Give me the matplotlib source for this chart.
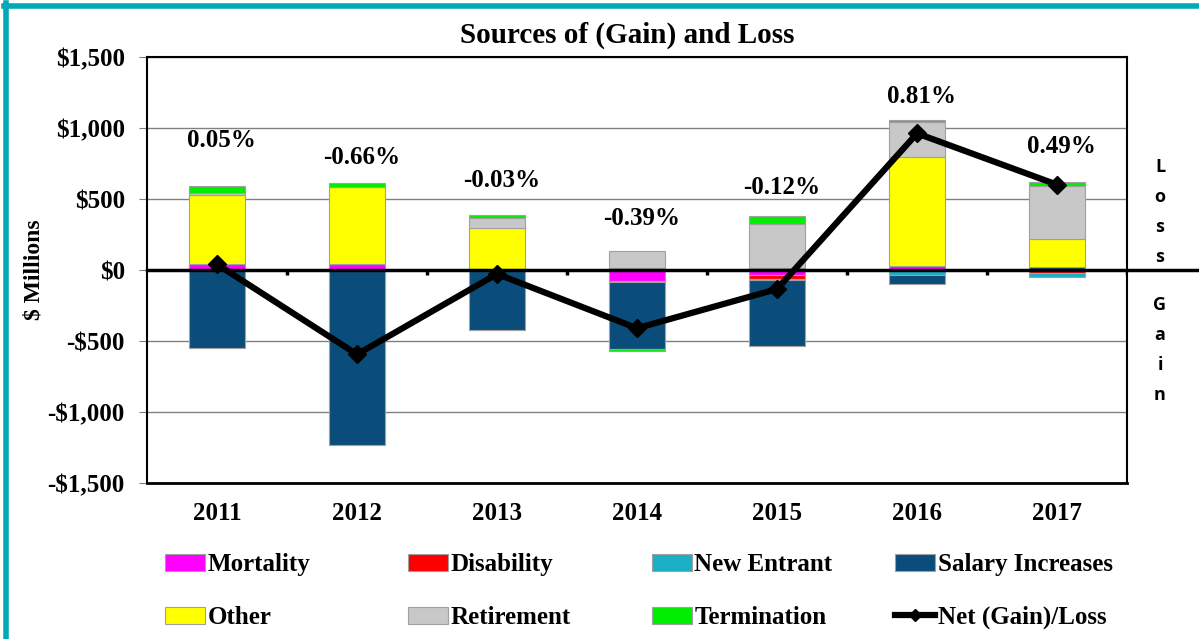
import matplotlib.pyplot as plt
import matplotlib.patches as mpatches
from matplotlib.lines import Line2D
import numpy as np

years = ['2011', '2012', '2013', '2014', '2015', '2016', '2017']

# $ millions
mortality = [40, 45, 5, -76, -35, 28, -10]
disability = [0, 0, 0, 0, -28, 0, -12]
new_entrant = [-8, -8, -5, -5, -5, -35, -25]
salary = [-540, -1225, -420, -478, -470, -66, 24]
other = [490, 538, 288, 12, 16, 771, 195]
retirement = [10, 5, 73, 120, 311, 240, 371]
termination = [50, 28, 21, -8, 54, 19, 28]
net = [40, -594, -28, -410, -134, 962, 601]
pct_labels = ['0.05%', '-0.66%', '-0.03%', '-0.39%', '-0.12%', '0.81%', '0.49%']
pct_label_y = [913, 792, 630, 361, 580, 1224, 870]

series = [
    ('Mortality', mortality, '#FF00FF'),
    ('Disability', disability, '#FF0000'),
    ('New Entrant', new_entrant, '#1AAFC4'),
    ('Salary Increases', salary, '#0A4D7A'),
    ('Other', other, '#FFFF00'),
    ('Retirement', retirement, '#C8C8C8'),
    ('Termination', termination, '#00EE00'),
]

serif = 'Liberation Serif'
plt.rcParams['font.family'] = serif
plt.rcParams['font.weight'] = 'bold'

fig = plt.figure(figsize=(11.99, 6.39), dpi=100)
ax = fig.add_axes([0.1226, 0.2441, 0.8174, 0.6667])

x = np.arange(len(years))
pos_bottom = np.zeros(len(years))
neg_bottom = np.zeros(len(years))
handles = {}
for name, vals, col in series:
    v = np.array(vals, dtype=float)
    bottom = np.where(v >= 0, pos_bottom, neg_bottom)
    ax.bar(x, v, 0.4, bottom=bottom, color=col, edgecolor='#a0a0a0',
           linewidth=0.8, zorder=3)
    pos_bottom = pos_bottom + np.where(v >= 0, v, 0)
    neg_bottom = neg_bottom + np.where(v < 0, v, 0)
    handles[name] = mpatches.Patch(facecolor=col, edgecolor='#a0a0a0', linewidth=0.8)

ax.plot(x, net, color='black', lw=4.5, marker='D', markersize=9, zorder=5)

for xi, lab, ly in zip(x, pct_labels, pct_label_y):
    ax.text(xi + 0.03, ly, lab, ha='center', va='center', fontsize=18,
            fontweight='bold', zorder=6)

ax.set_xlim(-0.5, 6.5)
ax.set_ylim(-1500, 1500)
ax.set_yticks(np.arange(-1500, 1501, 500))
ax.set_yticklabels([('-$' if t < 0 else '$') + f'{abs(t):,}' for t in range(-1500, 1501, 500)],
                   fontsize=18, fontweight='bold')
ax.set_xticks(x)
ax.set_xticklabels(years, fontsize=18, fontweight='bold')
ax.tick_params(axis='x', length=0, pad=14)
ax.tick_params(axis='y', length=6, color='#808080', pad=10)
ax.yaxis.grid(True, color='#808080', lw=1, zorder=0)
for s in ax.spines.values():
    s.set_linewidth(1.5)
    s.set_color('black')
ax.spines['bottom'].set_linewidth(2)

# zero axis line extending past the plot area, with category tick marks
ax.plot([-0.5, 7.02], [0, 0], color='black', lw=2.5, clip_on=False, zorder=4)
ax.vlines(np.arange(0.5, 7.0, 1.0), -35, 0, color='black', lw=2.5, zorder=4)

ax.set_ylabel('$ Millions', fontsize=17, fontweight='bold', labelpad=2)
ax.set_title('Sources of (Gain) and Loss', fontsize=21, fontweight='bold', pad=10, x=0.49)

fig.text(1160 / 1199, 1 - 212 / 639, 'L\no\ns\ns', ha='center', va='center',
         fontsize=13, fontweight='bold', family='Open Sans', linespacing=1.84)
fig.text(1160 / 1199, 1 - 350 / 639, 'G\na\ni\nn', ha='center', va='center',
         fontsize=13, fontweight='bold', family='Open Sans', linespacing=1.84)

net_handle = Line2D([0], [0], color='black', lw=4.5, marker='D', markersize=6)
handles['Net (Gain)/Loss'] = net_handle
columns = [['Mortality', 'Other'], ['Disability', 'Retirement'],
           ['New Entrant', 'Termination'], ['Salary Increases', 'Net (Gain)/Loss']]
col_x = [165, 408, 652, 895]
for cx, names in zip(col_x, columns):
    fig.legend([handles[n] for n in names], names, loc='upper left',
               bbox_to_anchor=(cx / 1199, 1 - 553 / 639), frameon=False,
               prop={'family': serif, 'weight': 'bold', 'size': 18},
               handlelength=1.6, handletextpad=0.1, labelspacing=1.2,
               borderaxespad=0, borderpad=0)

teal = '#00A8B8'
fig.add_artist(Line2D([4 / 1199, 1], [1 - 5.5 / 639, 1 - 5.5 / 639], color=teal, lw=4))
fig.add_artist(Line2D([6 / 1199, 6 / 1199], [0, 1 - 3 / 639], color=teal, lw=4))

fig.savefig('out.png', dpi=100)
